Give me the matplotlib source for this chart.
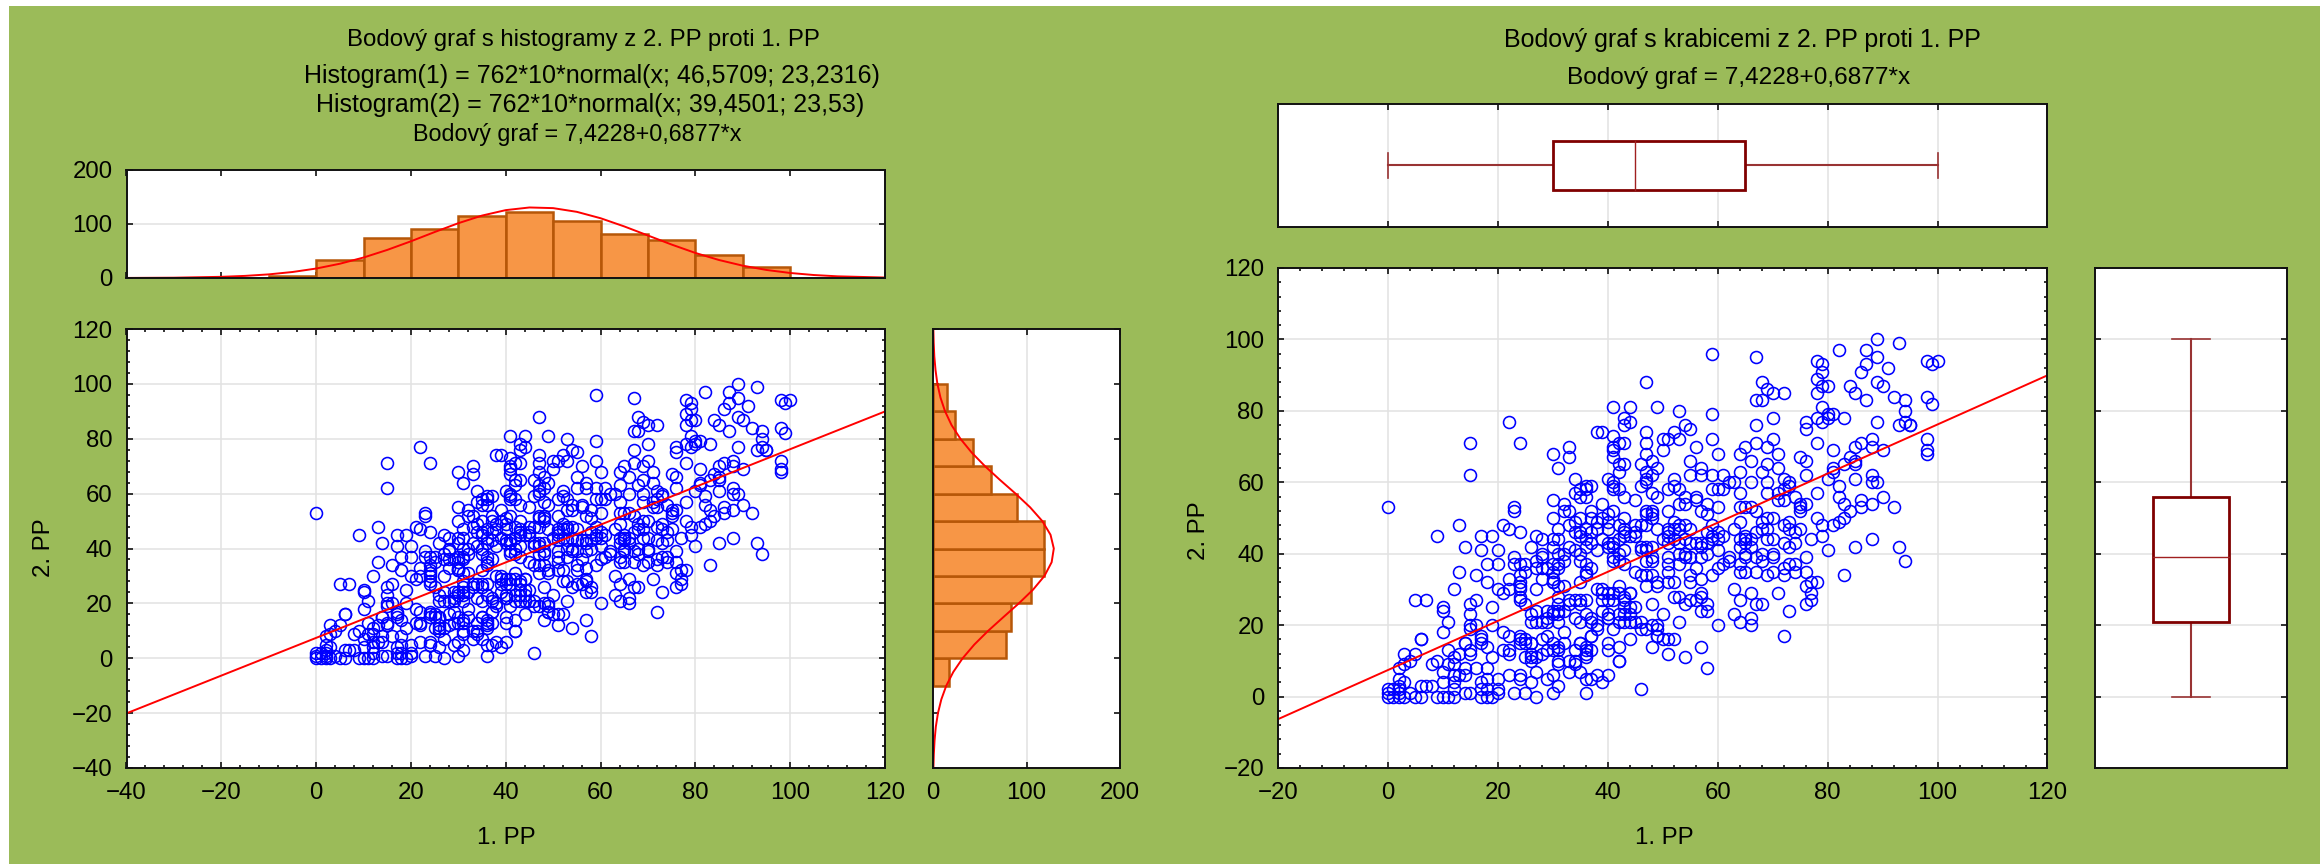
import matplotlib
matplotlib.use('Agg')
import matplotlib.pyplot as plt
from matplotlib.patches import Rectangle
from matplotlib.ticker import MultipleLocator

plt.rcParams['font.family'] = ['Liberation Sans', 'DejaVu Sans']

# -------------------------------------------------------------
# 1. DATA
# -------------------------------------------------------------
# (1. PP, 2. PP) pairs
points_right = [
    (89,100),(93,99),(82,97),(87,97),(78,94),(79,93),(79,91),(89,95),(87,93),(86,91),(91,92),(98,94),(99,93),(100,94),
    (78,89),(79,87),(80,87),(78,85),(84,87),(85,85),(87,83),(89,88),(90,87),(92,84),(94,83),(94,80),(98,84),(99,82),
    (79,81),(78,78),(79,77),(80,78),(80,79),(81,79),(83,78),(89,77),(93,76),(94,77),(95,76),(95,76),(76,77),(76,75),
    (70,78),(72,85),(70,85),(69,86),(68,88),(68,83),(98,72),(98,69),(98,68),(78,71),(70,72),(69,70),(71,68),(75,67),
    (76,66),(81,69),(85,70),(86,71),(88,72),(88,70),(90,69),(84,67),(85,66),(85,65),(83,65),(81,63),(81,64),(80,61),
    (82,59),(85,61),(88,62),(88,60),(89,60),(76,62),(71,64),(69,65),(68,63),(69,60),(72,61),(73,60),(73,59),(72,58),
    (71,57),(74,56),(78,57),(82,56),(83,54),(86,55),(86,53),(88,54),(90,56),(92,53),(84,52),(76,54),(75,54),(75,52),
    (75,53),(71,55),(72,55),(69,57),(78,50),(79,48),(81,48),(82,49),(83,50),(79,45),(77,44),(75,47),(74,46),(73,49),
    (72,48),(73,47),(70,50),(69,50),(68,49),(69,47),(68,47),(69,44),(70,44),(72,43),(73,42),(74,43),(80,41),(85,42),
    (88,44),(93,42),(94,38),(76,39),(68,40),(70,40),(70,39),(68,38),(72,36),(73,37),(74,37),(74,35),(72,34),(70,35),
    (69,34),(76,35),(83,34),(76,31),(77,32),(78,32),(77,29),(77,27),(76,26),(71,29),(68,26),(73,24),(72,17),
]
points_upper = [
    (59,96),(67,95),(47,88),(67,83),(41,81),(44,81),(49,81),(53,80),(59,79),(67,76),(43,78),(44,77),(43,76),(38,74),
    (41,73),(47,74),(47,71),(42,71),(43,71),(41,69),(50,72),(51,72),(52,74),(53,72),(54,76),(55,75),(59,72),(56,70),
    (65,70),(67,71),(64,68),(60,68),(50,69),(47,68),(30,68),(33,70),(33,67),(31,64),(41,67),(43,65),(42,65),(42,63),
    (46,65),(48,66),(47,63),(49,64),(48,62),(55,66),(55,62),(57,64),(57,62),(59,62),(61,62),(66,66),(64,63),(66,60),
    (34,61),(40,61),(41,60),(41,59),(41,58),(47,61),(47,60),(46,59),(52,61),(51,58),(52,59),(53,58),(62,60),(61,58),
    (60,58),(59,58),(64,57),(36,59),(37,59),(36,58),(34,57),(35,58),(35,56),(36,56),(43,56),(45,55),(48,57),(49,56),
    (53,54),(54,54),(56,56),(56,55),(58,54),(60,53),(30,55),(32,54),(32,52),(39,54),(37,52),(40,51),(41,52),(47,52),
    (48,52),(48,51),(47,51),(51,52),(57,52),(58,51),(64,53),(65,53),(66,53),(67,52),(30,50),(34,49),(38,49),(39,50),
    (43,50),(42,48),(46,48),(47,48),(36,47),(38,47),(40,47),(49,47),(52,49),(51,47),(52,47),(54,48),(55,47),(59,48),
    (64,49),(23,53),(23,52),(21,48),(22,47),(24,46),(13,48),(9,45),(17,45),(19,45),(14,42),(17,41),(20,41),(30,44),
    (31,47),(31,44),(34,46),(35,46),(35,45),(37,43),(40,43),(41,43),(42,44),(43,46),(44,45),(45,45),(50,44),(51,46),
    (52,44),(53,47),(56,43),(57,43),(57,42),(58,43),(59,44),(60,44),(62,39),(64,44),(65,43),(66,44),(64,42),(65,44),
    (15,71),(15,62),(22,77),(24,71),(0,53),
]
points_centre = [
    (41,70),(42,58),(63,60),(39,74),(54,56),(40,49),(43,47),(45,48),(48,50),(53,48),(51,43),(58,46),(59,45),(58,40),
    (65,45),(66,42),(40,42),(41,42),(42,40),(43,41),(46,41),(47,42),(48,39),(51,39),(53,40),(54,39),(55,39),(57,39),
    (60,41),(62,38),(65,40),(67,39),(43,45),(45,46),(51,45),(53,43),(54,44),(55,43),(60,46),(61,45),(63,47),(67,46),
    (27,45),(28,44),(26,42),(33,42),(34,41),(38,41),(36,42),(39,44),(37,46),(36,44),(33,48),(35,50),(37,50),(33,52),
]
points_middle = [
    (30,42),(28,40),(27,38),(28,39),(23,39),(24,37),(25,37),(25,35),(23,37),(18,37),(20,37),(13,35),(16,34),(18,32),
    (12,30),(20,30),(21,29),(22,33),(22,30),(24,34),(24,31),(24,28),(25,26),(28,33),(27,30),(31,40),(32,40),(30,37),
    (31,37),(32,38),(30,33),(30,32),(32,31),(35,40),(35,38),(36,37),(37,36),(36,34),(35,32),(41,39),(42,38),(43,37),
    (45,35),(47,38),(48,38),(47,41),(46,42),(48,42),(51,37),(51,35),(53,37),(55,34),(56,36),(54,40),(46,34),(48,34),
    (49,32),(47,31),(49,31),(51,32),(52,32),(55,32),(57,33),(59,34),(60,36),(61,37),(65,39),(64,37),(64,35),(65,35),
    (67,35),(63,30),(66,29),(64,27),(67,26),(57,29),(57,28),(58,26),(58,24),(57,24),(52,28),(53,28),(54,26),(55,27),
    (56,27),(48,26),(50,23),(53,21),(60,20),(63,23),(64,21),(66,22),(66,20),(38,30),(39,29),(40,29),(42,31),(42,29),
    (44,29),(34,27),(35,27),(36,27),(31,28),(31,24),(32,24),(39,27),(40,27),(41,27),(43,27),(44,25),(45,25),(27,24),
    (26,23),(30,24),(30,23),(34,22),(36,23),(37,22),(40,23),(40,22),(42,23),(43,23),(44,23),(45,21),(46,21),(26,21),
    (27,21),(28,21),(29,22),(31,21),(35,21),(38,20),(41,19),(43,21),(44,21),(47,19),(48,20),(49,19),(21,18),(19,20),
    (15,19),(16,20),(10,18),(11,21),(15,23),(19,25),(10,25),(10,24),(15,26),(16,27),(5,27),(7,27),(24,27),
    (39,30),(41,29),(43,28),(44,29),(43,25),(39,24),(40,22),(42,21),(33,27),(33,26),(35,26),(31,26),(31,23),(29,24),
    (29,21),(30,32),(31,31),(30,35),(27,36),(29,36),(31,36),(37,21),(36,35),(41,38),(47,34),(28,36),
]
points_lower = [
    (6,16),(11,13),(14,15),(17,17),(17,15),(18,14),(19,11),(15,12),(21,13),(22,13),(22,12),(24,17),(24,15),(25,15),
    (26,15),(28,16),(29,17),(30,15),(32,18),(35,15),(37,17),(40,15),(42,14),(44,16),(48,14),(49,17),(50,16),(52,16),
    (51,12),(54,11),(57,14),(58,8),(34,13),(36,13),(36,11),(37,13),(40,13),(42,10),(28,12),(30,13),(31,14),(25,11),
    (26,11),(31,10),(33,10),(34,10),(0,0),(2,0),(3,0),(5,0),(6,0),(9,0),(10,0),(11,0),(12,0),(17,0),(18,0),(19,0),
    (23,1),(0,2),(1,2),(2,2),(2,5),(2,1),(3,4),(6,3),(8,3),(7,3),(10,4),(12,4),(12,2),(14,1),(15,1),(17,2),(18,2),
    (20,2),(20,1),(12,6),(13,6),(14,6),(10,7),(16,8),(17,4),(18,5),(18,8),(20,5),(22,6),(24,5),(24,6),(25,1),(3,9),
    (4,10),(2,8),(3,12),(5,12),(6,16),(8,9),(9,10),(11,9),(12,11),(12,9),(13,12),(14,8),(15,13),(14,15),(15,20),
    (17,16),(24,16),(22,17),(24,30),(24,32),(27,0),(36,1),(30,1),(46,2),(26,4),(31,3),(29,5),(30,6),(33,7),(35,7),
    (36,5),(37,5),(38,6),(39,4),(40,6),(27,7),(31,9),(34,9),(42,10),(36,12),(35,15),(36,14),(51,16),(49,20),(49,17),
    (46,19),(38,19),(37,17),(32,15),(29,13),(31,13),(26,15),(27,11),(26,12),(25,16),(26,10),(0,1),(1,0),(2,3),(4,1),
]
all_points = points_right + points_upper + points_centre + points_middle + points_lower
pp1 = [p[0] for p in all_points]
pp2 = [p[1] for p in all_points]

fit_x = [-40, 120]
fit_y = [-20.08, 89.95]

bin_edges = [-10, 0, 10, 20, 30, 40, 50, 60, 70, 80, 90, 100]
hist_pp1 = [3, 33, 74, 91, 115, 123, 106, 82, 70, 43, 20]
hist_pp2 = [17, 78, 83, 105, 119, 119, 90, 62, 43, 23, 15]

curve1_x = [-40, -30, -20, -15, -10, -5, 0, 5, 10, 15, 20, 25, 30, 35, 40, 45, 50, 55, 60, 65, 70, 75, 80, 85, 90, 95, 100, 105, 110, 120]
curve1_y = [0.13, 0.57, 2.2, 3.9, 6.7, 11.1, 17.5, 26.4, 37.9, 52.0, 68.0, 85.1, 101.5, 115.6, 125.7, 130.6, 129.4, 122.5, 110.7, 95.5, 78.7, 61.9, 46.4, 33.3, 22.8, 14.9, 9.3, 5.5, 3.1, 0.88]
curve2_y = [-40, -35, -30, -25, -20, -15, -10, -5, 0, 5, 10, 15, 20, 25, 30, 35, 40, 45, 50, 55, 60, 65, 70, 75, 80, 85, 90, 95, 100, 105, 110, 115, 120]
curve2_x = [0.43, 0.87, 1.66, 3.0, 5.3, 8.9, 14.2, 21.7, 31.7, 44.2, 59.0, 75.3, 91.8, 107, 119.2, 126.9, 129.2, 125.7, 116.9, 103.9, 88.3, 71.6, 55.6, 41.3, 29.3, 19.8, 12.9, 8.0, 4.7, 2.7, 1.4, 0.74, 0.37]

box_pp1 = {'low': 0, 'q1': 30, 'med': 45, 'q3': 65, 'high': 100}
box_pp2 = {'low': 0, 'q1': 21, 'med': 39, 'q3': 56, 'high': 100}

# -------------------------------------------------------------
# 2. STYLE
# -------------------------------------------------------------
W, H = 2320, 864
GREEN = '#9BBB59'
GRID = '#E2E2E2'
BLUE = '#0000FF'
RED = '#FF0000'
ORANGE = '#F79646'
ORANGE_EDGE = '#B65708'
DARKRED = '#800000'
FS = 17.3

fig = plt.figure(figsize=(W / 100, H / 100), dpi=100, facecolor='white')
fig.add_artist(Rectangle((9 / W, 0), 1 - 9 / W, 1 - 6 / H, transform=fig.transFigure, facecolor=GREEN, edgecolor='none', zorder=-5))


def axes_px(left, top, right, bottom):
    ax = fig.add_axes([left / W, 1 - bottom / H, (right - left) / W, (bottom - top) / H])
    ax.set_facecolor('white')
    for s in ax.spines.values():
        s.set_linewidth(1.4)
        s.set_color('#111111')
    ax.tick_params(which='both', direction='in', top=True, right=True, color='#111111', labelsize=FS, pad=10, width=1.2, length=4)
    ax.tick_params(which='minor', length=2.5)
    ax.set_axisbelow(True)
    return ax


def text_px(x, y, s, size=FS, **kw):
    fig.text(x / W, 1 - y / H, s, ha='center', va='center', fontsize=size, color='black', **kw)


def scatter_panel(ax, xlim):
    ax.plot(pp1, pp2, 'o', ms=8.6, mfc='none', mec=BLUE, mew=1.15, linestyle='none')
    ax.plot(fit_x, fit_y, color=RED, lw=1.4)
    ax.set_xlim(*xlim)
    ax.set_ylim(-40 if xlim[0] == -40 else -20, 120)
    ax.xaxis.set_major_locator(MultipleLocator(20))
    ax.yaxis.set_major_locator(MultipleLocator(20))
    ax.xaxis.set_minor_locator(MultipleLocator(4))
    ax.yaxis.set_minor_locator(MultipleLocator(4))
    ax.grid(True, which='major', color=GRID, lw=1.1)


# -------------------------------------------------------------
# 3. LEFT: SCATTER WITH HISTOGRAMS
# -------------------------------------------------------------
ax = axes_px(126.5, 329, 885, 768)
scatter_panel(ax, (-40, 120))

ax_top = axes_px(126.5, 170, 885, 278)
ax_top.bar(bin_edges[:-1], hist_pp1, width=10, align='edge', color=ORANGE, edgecolor=ORANGE_EDGE, lw=1.8)
ax_top.plot(curve1_x, curve1_y, color=RED, lw=1.4)
ax_top.set_xlim(-40, 120)
ax_top.set_ylim(0, 200)
ax_top.xaxis.set_major_locator(MultipleLocator(20))
ax_top.yaxis.set_major_locator(MultipleLocator(100))
ax_top.yaxis.grid(True, color=GRID, lw=1.1)
ax_top.tick_params(labelbottom=False)

ax_side = axes_px(933, 329, 1120, 768)
ax_side.barh(bin_edges[:-1], hist_pp2, height=10, align='edge', color=ORANGE, edgecolor=ORANGE_EDGE, lw=1.8)
ax_side.plot(curve2_x, curve2_y, color=RED, lw=1.4)
ax_side.set_xlim(0, 200)
ax_side.set_ylim(-40, 120)
ax_side.xaxis.set_major_locator(MultipleLocator(100))
ax_side.yaxis.set_major_locator(MultipleLocator(20))
ax_side.xaxis.grid(True, color=GRID, lw=1.1)
ax_side.tick_params(labelleft=False)

text_px(583, 40, 'Bodový graf s histogramy z 2. PP proti 1. PP')
text_px(592, 76, 'Histogram(1) = 762*10*normal(x; 46,5709; 23,2316)', size=18)
text_px(590, 105, 'Histogram(2) = 762*10*normal(x; 39,4501; 23,53)', size=18)
text_px(577, 134, 'Bodový graf = 7,4228+0,6877*x', size=16.8)
text_px(506, 838, '1. PP')
text_px(44, 548, '2. PP', rotation=90)

# -------------------------------------------------------------
# 4. RIGHT: SCATTER WITH BOX PLOTS
# -------------------------------------------------------------
ax2 = axes_px(1278, 268, 2047.5, 768)
scatter_panel(ax2, (-20, 120))

ax2_top = axes_px(1278, 104, 2047.5, 227)
ax2_top.set_xlim(-20, 120)
ax2_top.set_ylim(0, 1)
ax2_top.xaxis.set_major_locator(MultipleLocator(20))
ax2_top.set_yticks([])
ax2_top.xaxis.grid(True, color=GRID, lw=1.1)
ax2_top.tick_params(labelbottom=False)
ax2_top.plot([box_pp1['low'], box_pp1['q1']], [0.5, 0.5], color='#993333', lw=1.5)
ax2_top.plot([box_pp1['q3'], box_pp1['high']], [0.5, 0.5], color='#993333', lw=1.5)
ax2_top.plot([box_pp1['low']] * 2, [0.4, 0.6], color='#993333', lw=1.2)
ax2_top.plot([box_pp1['high']] * 2, [0.4, 0.6], color='#993333', lw=1.2)
ax2_top.add_patch(Rectangle((box_pp1['q1'], 0.3), box_pp1['q3'] - box_pp1['q1'], 0.4, facecolor='white', edgecolor=DARKRED, lw=2, zorder=3))
ax2_top.plot([box_pp1['med']] * 2, [0.3, 0.7], color='#A02020', lw=1, zorder=4)

ax2_side = axes_px(2095, 268, 2287, 768)
ax2_side.set_xlim(0, 1)
ax2_side.set_ylim(-20, 120)
ax2_side.yaxis.set_major_locator(MultipleLocator(20))
ax2_side.set_xticks([])
ax2_side.yaxis.grid(True, color=GRID, lw=1.1)
ax2_side.tick_params(labelleft=False)
ax2_side.plot([0.5, 0.5], [box_pp2['low'], box_pp2['q1']], color='#993333', lw=1.5)
ax2_side.plot([0.5, 0.5], [box_pp2['q3'], box_pp2['high']], color='#993333', lw=1.5)
ax2_side.plot([0.4, 0.6], [box_pp2['low']] * 2, color='#993333', lw=1.2)
ax2_side.plot([0.4, 0.6], [box_pp2['high']] * 2, color='#993333', lw=1.2)
ax2_side.add_patch(Rectangle((0.3, box_pp2['q1']), 0.4, box_pp2['q3'] - box_pp2['q1'], facecolor='white', edgecolor=DARKRED, lw=2, zorder=3))
ax2_side.plot([0.3, 0.7], [box_pp2['med']] * 2, color='#A02020', lw=1, zorder=4)

text_px(1742, 40, 'Bodový graf s krabicemi z 2. PP proti 1. PP', size=18)
text_px(1739, 78, 'Bodový graf = 7,4228+0,6877*x', size=17.6)
text_px(1664, 838, '1. PP')
text_px(1199, 531, '2. PP', rotation=90)

plt.savefig('out.png', dpi=100, facecolor=fig.get_facecolor())
plt.close()
